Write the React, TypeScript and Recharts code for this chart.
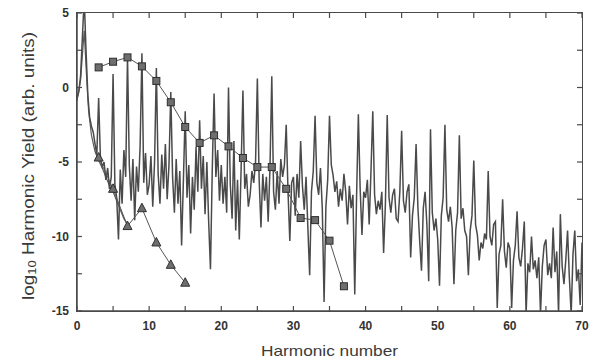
import { LineChart, Line, XAxis, YAxis, Label } from 'recharts';

// Sampling step of the measured spectrum (harmonic units)
const STEP = 0.25;

// Measured spectrum, log10 yield, one array per 10 harmonics
const spec00 = [
  -0.7, -0.3, 0.8, 3.4, 6.0, 2.5, -0.5, -2.0, -2.6, -3.0,
  -3.8, -4.5, -0.7, -4.8, -5.3, -5.0, -6.2, -5.4, -6.8, -6.0,
  0.9, -6.5, -7.4, -10.2, -5.5, -7.8, -4.2, -6.0, 2.1, -5.2,
  -7.6, -4.8, -8.9, -5.3, -7.0, -3.9, 2.3, -6.4, -4.4, -7.2,
];
const spec10 = [
  -6.5, -4.6, -8.0, -5.0, 1.3, -5.8, -7.8, -4.5, -6.8, -3.8,
  -7.5, -5.2, -0.3, -6.0, -8.4, -4.8, -7.8, -5.6, -10.6, -6.2,
  -1.6, -7.4, -5.2, -9.8, -6.0, -8.2, -4.0, -7.0, -2.2, -6.8,
  -4.6, -8.5, -5.0, -9.0, -12.2, -5.5, -0.4, -6.0, -4.2, -7.6,
];
const spec20 = [
  -5.2, -7.8, -6.0, -8.4, 0.0, -6.5, -8.8, -3.6, -9.6, -6.2,
  -10.2, -5.4, -0.2, -6.8, -5.8, -8.0, -7.2, -5.6, -6.4, -5.0,
  0.6, -6.2, -9.4, -5.8, -7.6, -6.0, -9.0, -5.4, 0.75, -7.0,
  -8.2, -5.6, -7.8, -4.8, -6.0, -5.2, -2.5, -7.0, -10.3, -6.4,
];
const spec30 = [
  -6.0, -8.6, -5.8, -7.4, -3.6, -6.6, -8.2, -6.0, -9.4, -12.6,
  -7.0, -5.6, -1.9, -6.4, -7.2, -5.4, -8.1, -14.4, -8.0, -6.2,
  -1.9, -5.2, -5.9, -7.0, -6.3, -8.0, -6.8, -7.6, -5.8, -7.0,
  -9.2, -6.6, -8.1, -7.2, -13.9, -7.4, -1.8, -6.8, -9.9, -7.0,
];
const spec40 = [
  -7.4, -6.2, -9.2, -5.6, -1.6, -7.2, -8.5, -7.6, -8.2, -7.0,
  -11.1, -7.8, -1.85, -7.4, -8.4, -7.2, -6.8, -8.8, -9.0, -7.0,
  -2.9, -7.6, -8.4, -7.0, -6.5, -11.4, -8.6, -7.4, -3.8, -8.0,
  -10.3, -12.3, -8.1, -7.0, -9.2, -13.0, -2.8, -8.4, -9.6, -8.8,
];
const spec50 = [
  -10.2, -13.3, -8.6, -7.4, -2.5, -8.2, -9.0, -8.0, -9.4, -13.2,
  -9.6, -8.4, -3.2, -8.8, -8.1, -9.6, -10.0, -12.6, -9.6, -8.6,
  -4.9, -9.2, -9.9, -11.6, -10.4, -10.8, -9.8, -10.2, -5.6, -10.0,
  -10.6, -9.2, -9.0, -14.8, -11.2, -10.6, -7.5, -11.0, -12.1, -10.4,
];
const spec60 = [
  -10.8, -14.8, -11.6, -10.6, -8.3, -11.4, -12.0, -10.8, -9.0, -15.2,
  -11.8, -12.4, -10.0, -12.2, -11.6, -12.8, -11.4, -15.2, -12.0, -10.6,
  -10.2, -12.6, -11.8, -12.8, -9.4, -12.4, -11.0, -15.2, -8.5, -12.0,
  -13.2, -11.6, -9.6, -12.8, -15.2, -11.2, -9.6, -13.0, -12.2, -14.6,
];
const specLast = -10.4; // value at harmonic 70

// Second (lower) spectrum near the fundamental
const lowH = [0, 0.5, 0.8, 1.0, 1.3, 1.6, 2, 2.5, 3, 3.5, 4, 4.5, 5, 5.5, 6, 6.5, 7];
const lowY = [-0.9, 0.5, 2.5, 3.8, 1.0, -1.5, -3.2, -4.3, -4.9, -5.4, -6.0, -6.6, -7.0, -7.6, -8.2, -8.8, -9.2];

// Square markers (odd harmonics)
const sqH = [3, 5, 7, 9, 11, 13, 15, 17, 19, 21, 23, 25, 27, 29, 31, 33, 35, 37];
const sqY = [1.35, 1.73, 2.02, 1.42, 0.44, -0.99, -2.65, -3.72, -3.21, -3.95, -4.73, -5.34, -5.34, -6.8, -8.76, -8.9, -10.28, -13.34];

// Triangle markers
const triH = [3, 5, 7, 9, 11, 13, 15];
const triY = [-4.7, -6.8, -9.3, -8.1, -10.4, -11.9, -13.1];

const xTicks = [0, 5, 10, 15, 20, 25, 30, 35, 40, 45, 50, 55, 60, 65, 70];
const yTicks = [-15, -12.5, -10, -7.5, -5, -2.5, 0, 2.5, 5];

const segments = [spec00, spec10, spec20, spec30, spec40, spec50, spec60];
const spectrum = segments
  .flatMap((seg, s) => seg.map((y, i) => ({ h: s * 10 + i * STEP, y })))
  .concat([{ h: 70, y: specLast }]);
const lowSpec = lowH.map((h, i) => ({ h, y: lowY[i] }));
const squares = sqH.map((h, i) => ({ h, y: sqY[i] }));
const triangles = triH.map((h, i) => ({ h, y: triY[i] }));

const INK = '#4a4a4a';
const FONT = '"Liberation Sans", Arial, sans-serif';
const TICK_LEN = 5;
const X_GAP = 10; // axis line to top of x labels
const Y_GAP = 8; // axis line to right end of y labels

// chart layout; the plot box (for the frame) follows from these
const W = 589;
const H = 359;
const MARGIN = { top: 12, right: 6, bottom: 0, left: 0 };
const LEFT_W = 77;
const BOTTOM_H = 48;
const TOP_H = 1;
const RIGHT_W = 1;
const plotLeft = MARGIN.left + LEFT_W;
const plotTop = MARGIN.top + TOP_H;
const plotW = W - MARGIN.left - MARGIN.right - LEFT_W - RIGHT_W;
const plotH = H - MARGIN.top - MARGIN.bottom - TOP_H - BOTTOM_H;

// tickSize is 0, so each tick's (x, y) sits a fixed gap away from its axis line
function XTick({ x, y, payload }: any) {
  const axisY = y - X_GAP;
  return (
    <g>
      <line x1={x} x2={x} y1={axisY} y2={axisY - TICK_LEN} stroke={INK} strokeWidth={1.2} />
      {payload.value % 10 === 0 && (
        <text x={x} y={y} dy="0.71em" textAnchor="middle" fontFamily={FONT} fontSize={12} fontWeight={700} fill="#333">
          {payload.value}
        </text>
      )}
    </g>
  );
}

function YTick({ x, y, payload }: any) {
  const axisX = x + Y_GAP;
  return (
    <g>
      <line x1={axisX} x2={axisX + TICK_LEN} y1={y} y2={y} stroke={INK} strokeWidth={1.2} />
      {payload.value % 5 === 0 && (
        <text x={x} y={y} dy="0.36em" textAnchor="end" fontFamily={FONT} fontSize={12} fontWeight={700} fill="#333">
          {payload.value}
        </text>
      )}
    </g>
  );
}

function TopTick({ x, y }: any) {
  return <line x1={x} x2={x} y1={y} y2={y + TICK_LEN} stroke={INK} strokeWidth={1.2} />;
}

function RightTick({ x, y }: any) {
  return <line x1={x} x2={x - TICK_LEN} y1={y} y2={y} stroke={INK} strokeWidth={1.2} />;
}

function SquareDot(p: any) {
  return <rect key={p.index} x={p.cx - 3.5} y={p.cy - 3.5} width={7} height={7} fill="#6e6e6e" stroke="#2e2e2e" strokeWidth={1} />;
}

function TriangleDot(p: any) {
  const { cx, cy } = p;
  return (
    <polygon
      key={p.index}
      points={`${cx},${cy - 5} ${cx - 4.5},${cy + 3.5} ${cx + 4.5},${cy + 3.5}`}
      fill="#6e6e6e"
      stroke="#2e2e2e"
      strokeWidth={1}
    />
  );
}

function YTitle({ viewBox }: any) {
  const cx = viewBox.x + 28;
  const cy = viewBox.y + viewBox.height / 2 + 4;
  return (
    <text
      x={cx}
      y={cy}
      transform={`rotate(-90 ${cx} ${cy})`}
      textAnchor="middle"
      dominantBaseline="central"
      fontFamily={FONT}
      fontSize={16}
      fill="#3a3a3a"
      textLength={268}
      lengthAdjust="spacingAndGlyphs"
    >
      log<tspan fontSize={11} dy={4}>10</tspan>
      <tspan dy={-4}> Harmonic Yield (arb. units)</tspan>
    </text>
  );
}

function XTitle({ viewBox }: any) {
  const cx = viewBox.x + viewBox.width / 2;
  const cy = viewBox.y + 39;
  return (
    <text
      x={cx}
      y={cy}
      textAnchor="middle"
      dominantBaseline="central"
      fontFamily={FONT}
      fontSize={15}
      fill="#3a3a3a"
      textLength={137}
      lengthAdjust="spacingAndGlyphs"
    >
      Harmonic number
    </text>
  );
}

export default function App() {
  return (
    <div style={{ position: 'absolute', left: 0, top: 0, width: W, height: H, background: '#fff' }}>
      <LineChart width={W} height={H} margin={MARGIN}>
        <XAxis
          dataKey="h"
          type="number"
          domain={[0, 70]}
          ticks={xTicks}
          interval={0}
          allowDataOverflow
          height={BOTTOM_H}
          tickSize={0}
          tickMargin={X_GAP}
          tickLine={false}
          tick={XTick}
          stroke={INK}
          strokeWidth={1.5}
        >
          <Label content={XTitle} />
        </XAxis>
        <XAxis
          xAxisId="top"
          orientation="top"
          dataKey="h"
          type="number"
          domain={[0, 70]}
          ticks={xTicks}
          interval={0}
          allowDataOverflow
          height={TOP_H}
          tickSize={0}
          tickMargin={0}
          tickLine={false}
          tick={TopTick}
          axisLine={false}
        />
        <YAxis
          type="number"
          domain={[-15, 5]}
          ticks={yTicks}
          interval={0}
          allowDataOverflow
          width={LEFT_W}
          tickSize={0}
          tickMargin={Y_GAP}
          tickLine={false}
          tick={YTick}
          stroke={INK}
          strokeWidth={1.5}
        >
          <Label content={YTitle} />
        </YAxis>
        <YAxis
          yAxisId="right"
          orientation="right"
          type="number"
          domain={[-15, 5]}
          ticks={yTicks}
          interval={0}
          allowDataOverflow
          width={RIGHT_W}
          tickSize={0}
          tickMargin={0}
          tickLine={false}
          tick={RightTick}
          axisLine={false}
        />
        <Line data={lowSpec} dataKey="y" stroke="#5a5a5a" strokeWidth={1.2} dot={false} isAnimationActive={false} />
        <Line data={spectrum} dataKey="y" stroke={INK} strokeWidth={1.5} dot={false} isAnimationActive={false} />
        <Line data={squares} yAxisId="right" dataKey="y" stroke="#555" strokeWidth={1} dot={SquareDot} isAnimationActive={false} />
        <Line data={triangles} xAxisId="top" dataKey="y" stroke="#555" strokeWidth={1} dot={TriangleDot} isAnimationActive={false} />
      </LineChart>
      {/* plot frame (top and right edges close the box) */}
      <div
        style={{
          position: 'absolute',
          left: plotLeft - 0.75,
          top: plotTop - 0.75,
          width: plotW + 1.5,
          height: plotH + 1.5,
          boxSizing: 'border-box',
          border: `1.5px solid ${INK}`,
          pointerEvents: 'none',
        }}
      />
    </div>
  );
}
